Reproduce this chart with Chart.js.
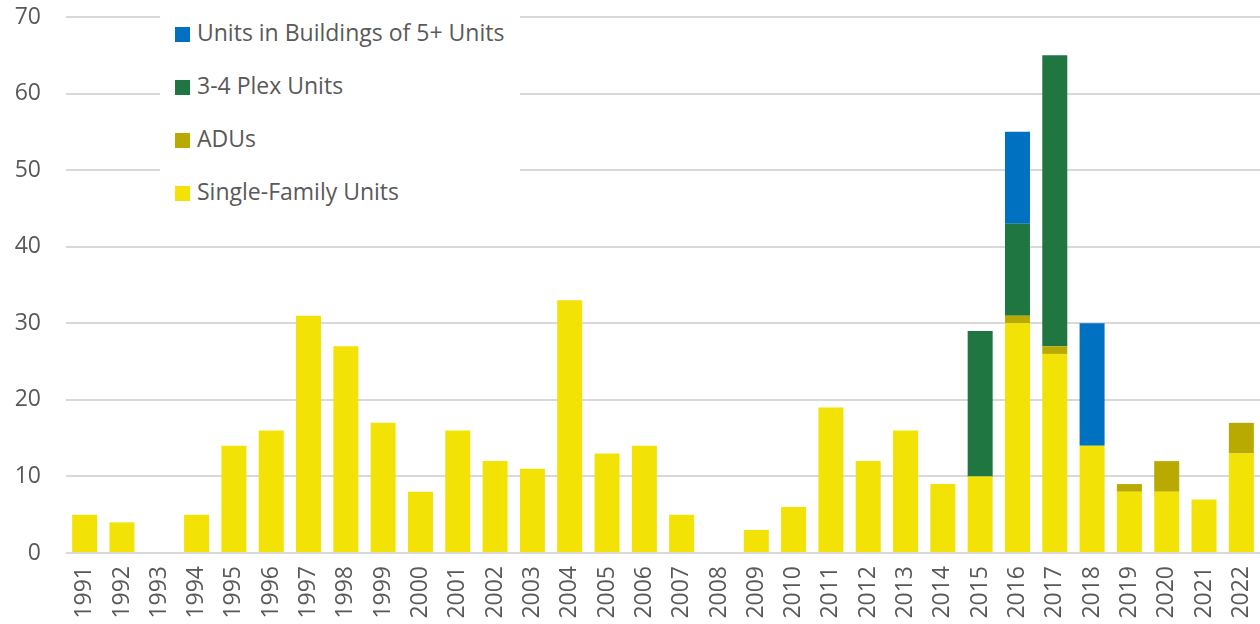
<!DOCTYPE html>
<html>
<head>
<meta charset="utf-8">
<script src="https://cdn.jsdelivr.net/npm/chart.js@4.4.1/dist/chart.umd.min.js"></script>
<style>
  html, body { margin: 0; padding: 0; background: #ffffff; }
  #wrap { position: relative; width: 1260px; height: 624px; }
  #legend { position: absolute; left: 160px; top: 0px; width: 360px; height: 218px; background: #ffffff;
            font-family: "Segoe UI", "Open Sans", "Noto Sans", sans-serif; font-size: 23px; color: #595959; }
  .item { position: absolute; left: 15px; height: 30px; line-height: 30px; white-space: nowrap; }
  .sw { display: inline-block; width: 15px; height: 15px; margin-right: 7px; vertical-align: -1px; }
</style>
</head>
<body>
<div id="wrap">
  <canvas id="c" width="1260" height="624"></canvas>
  <div id="legend"></div>
</div>
<script>
const years = ["1991","1992","1993","1994","1995","1996","1997","1998","1999","2000","2001","2002","2003","2004","2005","2006","2007","2008","2009","2010","2011","2012","2013","2014","2015","2016","2017","2018","2019","2020","2021","2022"];
const singleFamily = [5,4,0,5,14,16,31,27,17,8,16,12,11,33,13,14,5,0,3,6,19,12,16,9,10,30,26,14,8,8,7,13];
const adus =         [0,0,0,0,0,0,0,0,0,0,0,0,0,0,0,0,0,0,0,0,0,0,0,0,0,1,1,0,1,4,0,4];
const plex34 =       [0,0,0,0,0,0,0,0,0,0,0,0,0,0,0,0,0,0,0,0,0,0,0,0,19,12,38,0,0,0,0,0];
const fivePlus =     [0,0,0,0,0,0,0,0,0,0,0,0,0,0,0,0,0,0,0,0,0,0,0,0,0,12,0,16,0,0,0,0];
const yTicks = [0,10,20,30,40,50,60,70];

const names = ["Single-Family Units","ADUs","3-4 Plex Units","Units in Buildings of 5+ Units"];
const colors = ["#F2E205","#B8AA00","#1F7640","#0070C0"];
const series = [singleFamily, adus, plex34, fivePlus];

const font = '"Segoe UI", "Open Sans", "Noto Sans", sans-serif';

const datasets = series.map((d, i) => ({
  label: names[i],
  data: d,
  backgroundColor: colors[i],
  borderWidth: 0,
  barPercentage: 0.67,
  categoryPercentage: 1.0
}));

new Chart(document.getElementById('c'), {
  type: 'bar',
  data: { labels: years, datasets },
  options: {
    responsive: false,
    animation: false,
    layout: { padding: { top: 17, right: 0, left: 0, bottom: 0 } },
    plugins: { legend: { display: false }, tooltip: { enabled: false } },
    scales: {
      x: {
        stacked: true,
        grid: { display: false },
        border: { display: false },
        ticks: { color: '#595959', font: { family: font, size: 23 }, minRotation: 90, maxRotation: 90, padding: 5 },
        afterFit: (s) => { s.height = 71; s.paddingLeft = 0; s.paddingRight = 0; s.paddingTop = 0; s.paddingBottom = 0; }
      },
      y: {
        stacked: true,
        min: 0, max: 70,
        afterBuildTicks: (s) => { s.ticks = yTicks.map(v => ({ value: v })); },
        grid: { color: '#D9D9D9', lineWidth: 2, drawTicks: false },
        border: { display: false },
        ticks: { color: '#595959', font: { family: font, size: 23 }, padding: 25 },
        afterFit: (s) => { s.width = 66; s.paddingTop = 0; s.paddingBottom = 0; s.paddingLeft = 0; s.paddingRight = 0; }
      }
    }
  }
});

const lg = document.getElementById('legend');
const tops = [17, 70, 123, 176];
[3,2,1,0].forEach((idx, k) => {
  const el = document.createElement('div');
  el.className = 'item';
  el.style.top = tops[k] + 'px';
  el.innerHTML = '<span class="sw" style="background:' + colors[idx] + '"></span>' + names[idx];
  lg.appendChild(el);
});
</script>
</body>
</html>
